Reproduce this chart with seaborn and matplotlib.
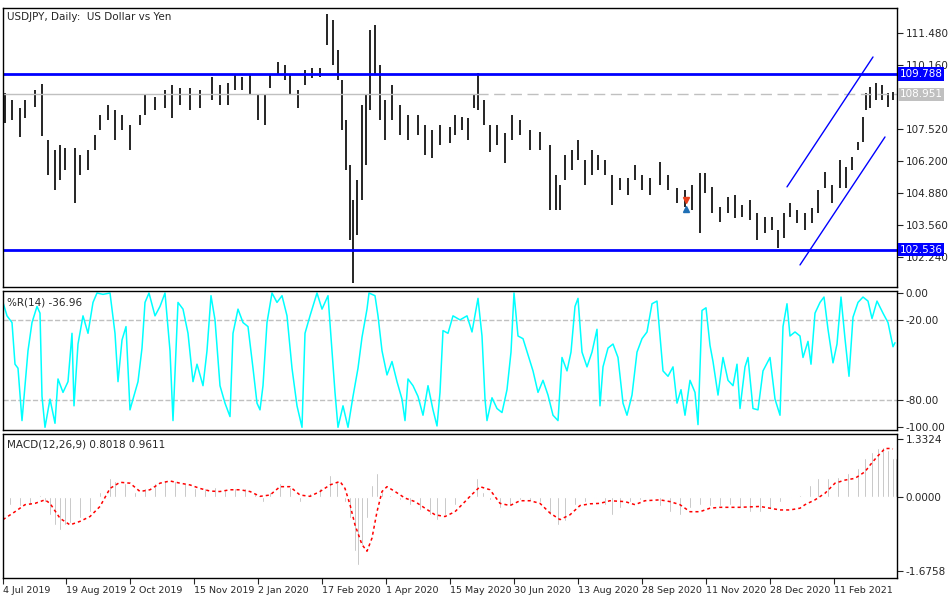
import numpy as np
import pandas as pd
import matplotlib
matplotlib.use("Agg")
import matplotlib.pyplot as plt
import seaborn as sns

sns.set_style("white")
plt.rcParams['font.family'] = ['DejaVu Sans']

# ---- price bars (position, high, low) ----
bar_pos = [5,12,20,25,35,42,48,55,60,65,75,80,88,95,100,108,115,122,130,140,145,155,165,172,180,190,200,212,220,228,
           235,242,250,258,265,270,278,285,290,298,305,312,320,327,333,338,342,346,350,353,357,362,366,370,375,380,385,392,400,408,
           418,425,432,440,450,455,462,468,474,478,484,490,497,505,512,520,530,540,550,556,560,565,572,578,585,592,598,605,612,620,
           628,635,642,650,660,668,677,685,692,700,705,712,720,728,735,742,750,757,765,772,778,784,790,797,805,812,818,825,832,840,
           846,852,858,863,866,870,876,882,888,893]
bar_high = [109.01,108.72,108.39,108.72,109.13,109.38,107.07,106.65,106.86,106.74,106.74,106.45,106.65,107.27,108.10,108.51,108.30,108.10,107.69,108.10,
            108.92,108.84,109.13,109.34,109.21,109.21,109.13,109.67,109.34,109.42,109.75,109.67,109.75,108.92,108.92,109.75,110.28,110.16,109.75,109.13,
            109.95,110.04,110.04,112.26,112.02,110.78,109.54,107.89,106.04,104.59,105.42,108.51,108.92,111.60,111.81,110.16,108.72,109.34,108.51,108.10,
            108.10,107.69,107.48,107.69,107.60,108.10,108.02,107.97,108.92,109.83,108.72,107.69,107.69,107.36,108.10,107.89,107.48,107.40,106.86,105.62,
            105.21,106.45,106.65,107.07,106.24,106.65,106.45,106.24,105.62,105.50,105.50,106.04,105.62,105.50,106.16,105.62,105.09,105.00,105.21,105.71,
            105.71,105.13,104.30,104.72,104.80,104.39,104.59,104.06,103.89,103.89,103.35,104.06,104.47,104.18,104.06,104.26,105.00,105.75,105.21,106.24,
            105.95,106.37,106.98,108.02,109.01,109.25,109.42,109.34,109.01,109.05]
bar_low = [107.77,107.89,107.19,107.97,108.43,107.23,105.62,105.00,105.42,105.83,104.47,105.62,105.83,106.65,107.48,107.89,107.07,107.48,106.65,107.69,
           108.10,108.30,108.39,107.97,108.51,108.30,108.39,108.72,108.51,108.51,109.13,109.13,108.92,107.89,107.69,109.21,109.75,109.54,108.92,108.39,
           109.34,109.62,109.67,110.98,110.16,109.54,107.48,105.83,102.94,101.17,103.15,104.59,106.04,108.30,109.75,107.89,107.07,107.89,107.27,107.07,
           107.27,106.45,106.32,106.86,106.94,107.27,107.48,107.07,108.39,108.30,107.69,106.57,106.86,106.12,107.07,107.27,106.65,106.65,104.18,104.18,
           104.18,105.42,105.83,106.24,105.21,105.62,105.83,105.62,104.39,105.00,104.80,105.42,105.00,104.80,105.21,105.00,104.47,104.30,104.18,103.23,
           104.88,104.06,103.68,104.06,103.85,103.89,103.77,102.94,103.23,103.35,102.61,103.02,103.89,103.64,103.35,103.64,104.06,105.09,104.47,105.09,
           105.09,105.83,106.65,106.98,108.30,108.39,108.72,108.72,108.43,108.72]

price_ticks = [102.24, 103.56, 104.88, 106.20, 107.52, 110.16, 111.48]
resistance = 109.788
support = 102.536
last_price = 108.951
channel_upper_x = [787, 873]
channel_upper_y = [105.13, 110.49]
channel_lower_x = [800, 885]
channel_lower_y = [101.91, 107.19]

# ---- Williams %R ----
wr_pos = [3,7,12,15,18,22,25,28,32,37,40,42,45,50,55,58,63,68,72,74,78,83,88,93,97,103,110,115,118,122,126,130,133,138,142,145,149,155,160,165,
          170,173,178,183,188,193,197,203,207,211,215,220,225,230,233,238,243,248,253,257,260,263,267,272,277,282,287,292,297,302,
          305,310,317,322,328,332,335,338,343,348,353,358,362,367,369,375,378,382,387,392,397,402,405,408,413,418,423,428,433,437,
          440,443,448,453,460,467,472,478,482,485,487,492,497,502,507,511,514,518,523,528,533,538,543,548,553,558,562,567,571,575,
          578,582,587,592,597,600,603,608,613,618,623,627,632,637,642,647,652,657,660,663,668,673,677,681,685,690,695,698,702,706,
          710,713,718,723,728,733,737,740,745,748,753,758,763,770,775,780,783,787,790,795,800,803,808,811,815,820,824,828,833,837,
          841,845,849,853,858,863,868,872,877,883,888,893,895]
wr_val = [-7,-17,-22,-53,-56,-95,-69,-43,-22,-10,-15,-77,-100,-79,-97,-64,-74,-66,-30,-84,-38,-17,-30,-7,0,-1,0,-30,-66,-35,-25,-87,-79,-66,-41,-7,0,-17,-10,0,
          -43,-95,-7,-12,-30,-66,-53,-69,-43,-2,-20,-69,-82,-92,-30,-12,-22,-25,-56,-82,-87,-69,-22,0,-7,-2,-17,-56,-84,-100,
          -30,-17,0,-12,-2,-43,-74,-100,-84,-100,-77,-56,-33,-12,0,-2,-17,-43,-61,-51,-66,-79,-95,-64,-69,-77,-91,-69,-87,-99,
          -74,-28,-30,-17,-20,-17,-29,-4,-32,-79,-95,-78,-86,-89,-72,-44,0,-32,-34,-46,-58,-74,-65,-76,-91,-95,-48,-58,-44,-10,
          -4,-44,-55,-44,-27,-84,-55,-41,-38,-48,-82,-91,-76,-44,-34,-29,-8,-6,-32,-58,-62,-55,-82,-72,-91,-65,-74,-98,-13,-11,
          -39,-51,-76,-48,-65,-69,-53,-86,-55,-48,-86,-87,-58,-48,-79,-91,-25,-8,-32,-29,-32,-48,-36,-53,-15,-7,-3,-27,-52,-38,
          -3,-34,-62,-18,-7,-3,-6,-19,-6,-15,-22,-40,-37]

# ---- MACD histogram (main) and signal ----
macd_pos = [3,10,20,30,40,45,50,55,60,65,70,80,90,100,110,115,125,135,145,155,165,175,185,195,205,215,225,235,245,255,
            263,270,280,290,300,310,320,330,337,345,350,355,358,362,367,372,377,382,390,400,410,420,430,437,445,455,465,470,477,483,
            490,500,510,520,530,540,550,558,565,575,585,595,605,612,620,630,640,650,660,670,680,690,700,710,720,730,740,750,760,770,
            780,790,800,810,818,828,838,848,858,865,872,878,883,888,893,896]
macd_val = [-0.36,-0.17,-0.21,-0.17,0.05,-0.10,-0.40,-0.63,-0.74,-0.63,-0.59,-0.48,-0.33,0.13,0.43,0.36,0.32,0.13,0.20,0.32,0.39,0.36,0.32,0.20,0.20,0.24,0.17,0.20,0.20,0.09,
            -0.10,0.13,0.32,0.24,-0.10,0.09,0.20,0.51,0.36,-0.10,-0.48,-1.23,-1.54,-1.08,-0.48,0.28,0.55,0.13,0.05,-0.06,-0.17,-0.29,-0.40,-0.51,-0.40,-0.17,-0.02,0.05,0.43,0.13,
            -0.06,-0.25,-0.21,-0.06,-0.08,-0.10,-0.40,-0.63,-0.55,-0.17,-0.10,-0.02,-0.17,-0.40,-0.25,-0.10,-0.06,-0.02,-0.21,-0.33,-0.40,-0.25,-0.17,-0.21,-0.21,-0.17,-0.25,-0.33,-0.33,-0.25,
            -0.10,-0.02,0.05,0.28,0.43,0.43,0.47,0.55,0.66,0.89,1.04,1.11,1.15,1.07,0.89,0.89]
sig_pos = [3,15,25,35,45,50,60,70,80,90,100,110,120,130,140,150,160,170,180,190,200,210,220,230,240,250,260,270,280,290,
           300,310,320,330,340,345,350,355,362,367,372,377,382,387,395,405,415,425,435,445,455,465,470,480,490,500,510,520,530,540,
           550,560,570,580,590,600,610,625,635,645,660,670,680,690,700,710,720,740,760,770,780,790,800,805,815,825,835,845,855,865,
           870,877,885,890,893]
sig_val = [-0.51,-0.33,-0.17,-0.14,-0.06,-0.14,-0.48,-0.63,-0.55,-0.44,-0.21,0.20,0.34,0.32,0.13,0.17,0.32,0.37,0.32,0.28,0.20,0.14,0.13,0.17,0.17,0.13,0.02,0.05,0.24,0.24,
           0.05,0.02,0.13,0.28,0.36,0.20,-0.17,-0.63,-1.08,-1.23,-0.93,-0.33,0.13,0.24,0.13,-0.02,-0.10,-0.25,-0.40,-0.44,-0.33,-0.10,0.02,0.24,0.17,-0.14,-0.19,-0.08,-0.08,-0.14,
           -0.36,-0.51,-0.40,-0.19,-0.15,-0.14,-0.08,-0.10,-0.17,-0.08,-0.06,-0.10,-0.17,-0.33,-0.33,-0.25,-0.23,-0.23,-0.21,-0.25,-0.29,-0.29,-0.25,-0.17,-0.06,0.09,0.32,0.39,0.43,0.58,
           0.73,0.92,1.11,1.11,1.10]

date_pos = [3,66,130,194,258,322,386,450,514,578,642,706,770,834]
date_labels = ["4 Jul 2019","19 Aug 2019","2 Oct 2019","15 Nov 2019","2 Jan 2020","17 Feb 2020","1 Apr 2020",
               "15 May 2020","30 Jun 2020","13 Aug 2020","28 Sep 2020","11 Nov 2020","28 Dec 2020","11 Feb 2021"]

FS = 7.5
fig = plt.figure(figsize=(9.5, 6), dpi=100)
L, W = 3/950, 894/950
ax1 = fig.add_axes([L, 1-287/600, W, 279/600])
ax2 = fig.add_axes([L, 1-430/600, W, 139/600])
ax3 = fig.add_axes([L, 1-578/600, W, 144/600])

for ax in (ax1, ax2, ax3):
    ax.set_xlim(3, 897)
    ax.yaxis.tick_right()
    ax.tick_params(axis='y', length=4, width=0.8, labelsize=FS, pad=2, direction='out', right=True)
    for s in ax.spines.values():
        s.set_linewidth(1.0); s.set_color('black')
    ax.set_xticks([])

# price panel
ax1.set_ylim(101.0, 112.51)
ax1.vlines(bar_pos, bar_low, bar_high, color='black', lw=1.2)
ax1.axhline(resistance, color='#0000ff', lw=2)
ax1.axhline(support, color='#0000ff', lw=2)
ax1.axhline(last_price, xmin=0, xmax=0.53, color='#c0c0c0', lw=1)
ax1.axhline(last_price, xmin=0.53, xmax=1, color='#c0c0c0', lw=1, dashes=(8, 4))
sns.lineplot(x=channel_upper_x, y=channel_upper_y, ax=ax1, color='#0000ff', lw=1)
sns.lineplot(x=channel_lower_x, y=channel_lower_y, ax=ax1, color='#0000ff', lw=1)
ax1.plot([686], [104.59], marker='v', color='#e8401c', ms=5)
ax1.plot([686], [104.22], marker='^', color='#1f6fb5', ms=5)
ax1.set_yticks(price_ticks)
ax1.set_yticklabels([f"{v:.3f}" for v in price_ticks])
box_kw = dict(transform=ax1.get_yaxis_transform(), fontsize=FS, color='white', va='center', ha='left', zorder=5, clip_on=False)
ax1.text(1.003, resistance, f"{resistance:.3f}", bbox=dict(boxstyle='square,pad=0.15', fc='#0000ff', ec='none'), **box_kw)
ax1.text(1.003, support, f"{support:.3f}", bbox=dict(boxstyle='square,pad=0.15', fc='#0000ff', ec='none'), **box_kw)
ax1.text(1.003, last_price, f"{last_price:.3f}", bbox=dict(boxstyle='square,pad=0.15', fc='#c0c0c0', ec='none'), **box_kw)
ax1.text(0.004, 0.985, "USDJPY, Daily:  US Dollar vs Yen", transform=ax1.transAxes, fontsize=FS, va='top')

# %R panel
ax2.set_ylim(-102, 1.5)
ax2.axhline(-20, color='#c0c0c0', lw=1, ls='--')
ax2.axhline(-80, color='#c0c0c0', lw=1, ls='--')
sns.lineplot(x=wr_pos, y=wr_val, ax=ax2, color='#00ffff', lw=1.1)
ax2.set_yticks([0, -20, -80, -100])
ax2.set_yticklabels(["0.00", "-20.00", "-80.00", "-100.00"])
ax2.text(0.004, 0.95, "%R(14) -36.96", transform=ax2.transAxes, fontsize=FS, va='top')

# MACD panel
ax3.set_ylim(-1.84, 1.44)
ax3.bar(macd_pos, macd_val, width=2.4, color='#a8a8a8')
sns.lineplot(x=sig_pos, y=sig_val, ax=ax3, color='#ff0000', lw=1.1)
ax3.lines[-1].set_dashes((2, 2))
ax3.set_yticks([1.3324, 0.0, -1.6758])
ax3.set_yticklabels(["1.3324", "0.0000", "-1.6758"])
ax3.text(0.004, 0.96, "MACD(12,26,9) 0.8018 0.9611", transform=ax3.transAxes, fontsize=FS, va='top')
ax3.set_xticks(date_pos)
ax3.set_xticklabels(date_labels, fontsize=6.8, ha='left')
ax3.tick_params(axis='x', length=4, width=0.8, pad=2, direction='out', bottom=True)

for ax in (ax1, ax2, ax3):
    ax.set_xlabel(''); ax.set_ylabel('')
    if ax.get_legend(): ax.get_legend().remove()

fig.savefig("out.png", dpi=100, facecolor='white')
